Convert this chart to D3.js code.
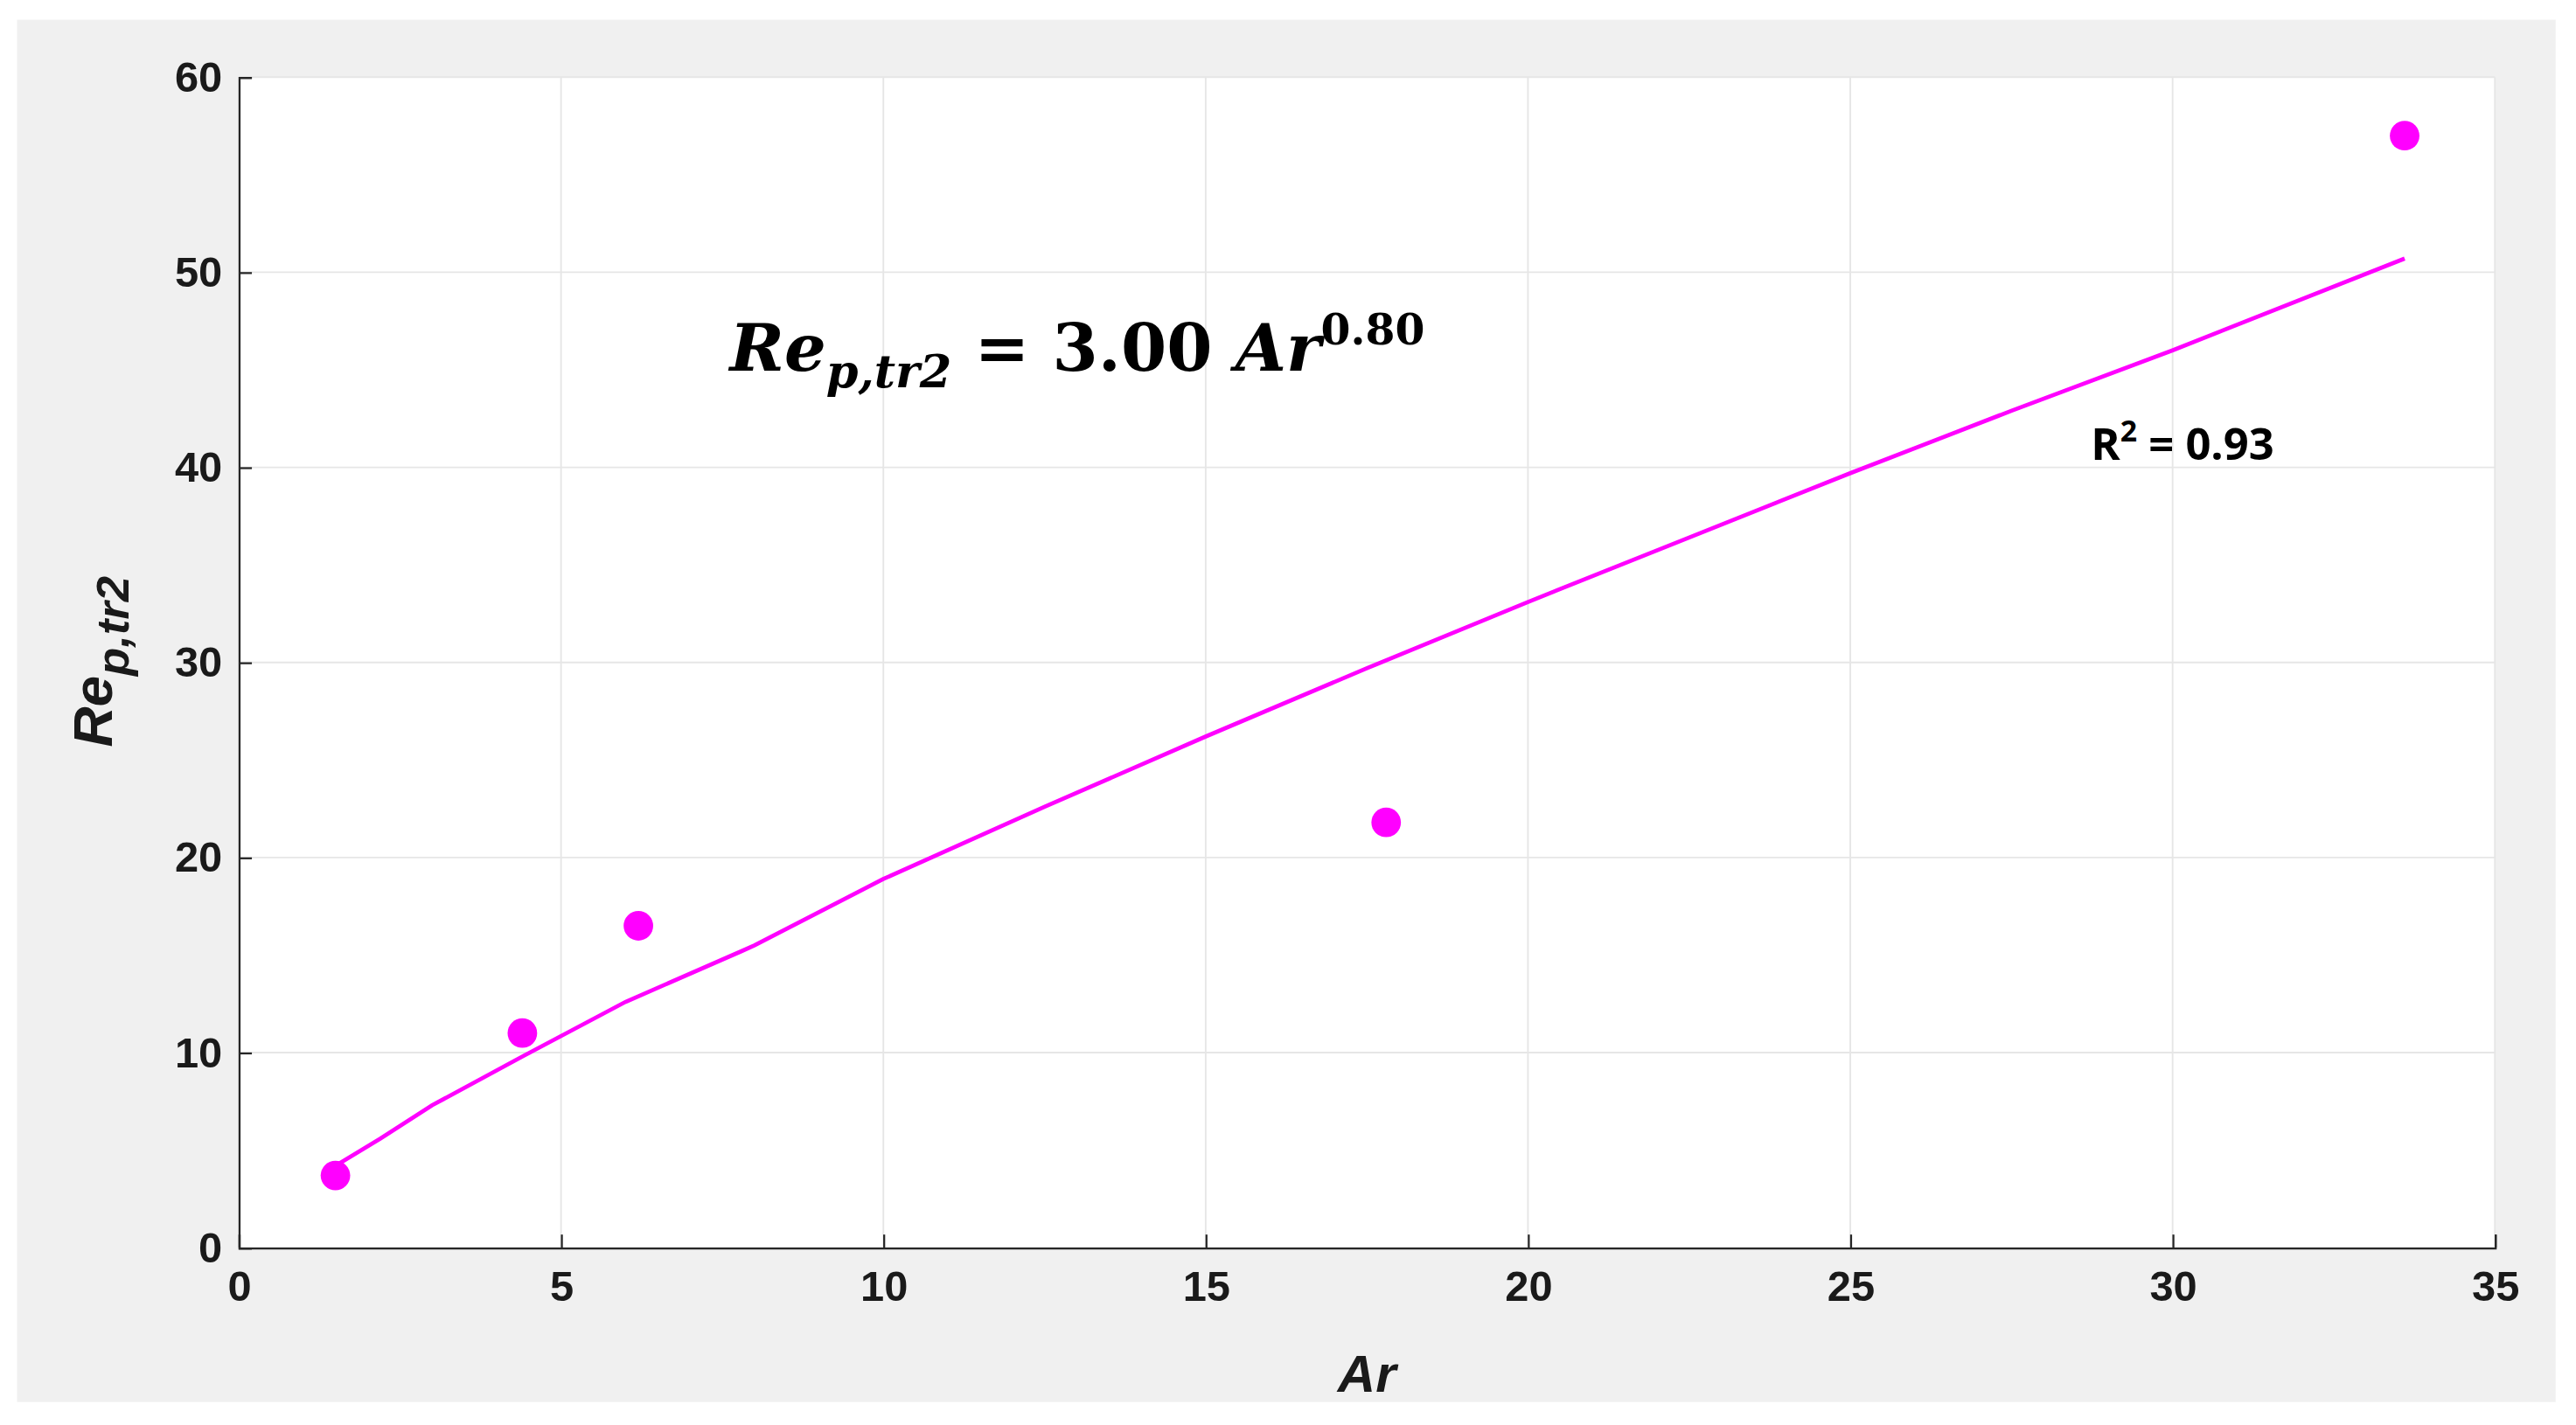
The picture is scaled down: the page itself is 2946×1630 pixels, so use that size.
<!DOCTYPE html><html><head><meta charset="utf-8">
<script src="https://cdn.jsdelivr.net/npm/d3@7"></script>
<style>html,body{margin:0;padding:0;background:#fff;overflow:hidden}</style></head><body>
<svg id="c" width="2946" height="1630" viewBox="0 0 1568 868"></svg>
<script>
const pointsAr=[1.5,4.4,6.2,17.8,33.6];
const pointsRe=[3.7,11.0,16.5,21.8,57.0];
const fitAr=[1.5,2.2,3,4.4,6,7.8,8,10,12.5,15,17.5,20,22.5,25,27.5,30,33.6];
const fitRe=[4.2,5.6,7.3,9.8,12.6,15.2,15.5,18.9,22.6,26.2,29.7,33.1,36.4,39.7,42.9,46.0,50.7];
const xTicks=[0,5,10,15,20,25,30,35];
const yTicks=[0,10,20,30,40,50,60];
const svg=d3.select("#c");
svg.append("rect").attr("x",10).attr("y",12).attr("width",1546).attr("height",842).attr("fill","#f0f0f0");
const L=145,R=1519,T=47,B=760;
const x=d3.scaleLinear().domain([0,35]).range([L,R]);
const y=d3.scaleLinear().domain([0,60]).range([B,T]);
svg.append("rect").attr("x",L).attr("y",T).attr("width",R-L).attr("height",B-T).attr("fill","#fff");
const g=svg.append("g");
g.selectAll(".gx").data(xTicks).join("line").attr("x1",d=>x(d)).attr("x2",d=>x(d)).attr("y1",T).attr("y2",B).attr("stroke","#e6e6e6");
g.selectAll(".gy").data(yTicks).join("line").attr("x1",L).attr("x2",R).attr("y1",d=>y(d)).attr("y2",d=>y(d)).attr("stroke","#e6e6e6");
const font="'Liberation Sans',Arial,sans-serif";
const xa=svg.append("g").attr("transform",`translate(0,${B})`).call(d3.axisBottom(x).tickValues(xTicks).tickSize(-8).tickPadding(14));
const ya=svg.append("g").attr("transform",`translate(${L},0)`).call(d3.axisLeft(y).tickValues(yTicks).tickSize(-8).tickPadding(10));
[xa,ya].forEach(a=>{a.selectAll("path,line").attr("stroke","#262626").attr("stroke-width",1.2);
 a.selectAll("text").attr("font-family",font).attr("font-weight","bold").attr("font-size",26).attr("fill","#1a1a1a");});
svg.append("text").attr("x",832).attr("y",848).attr("text-anchor","middle").attr("font-family",font).attr("font-weight","bold").attr("font-style","italic").attr("font-size",32).attr("fill","#1a1a1a").text("Ar");
const yl=svg.append("text").attr("transform","translate(68,403) rotate(-90)").attr("text-anchor","middle").attr("font-family",font).attr("font-weight","bold").attr("font-style","italic").attr("font-size",34).attr("fill","#1a1a1a");
yl.append("tspan").text("Re");
yl.append("tspan").attr("dy",10).attr("font-size",28).text("p,tr2");
const fit=fitAr.map((a,i)=>[a,fitRe[i]]);
svg.append("path").datum(fit).attr("fill","none").attr("stroke","#ff00ff").attr("stroke-width",2.5)
 .attr("d",d3.line().x(d=>x(d[0])).y(d=>y(d[1])));
svg.selectAll(".pt").data(pointsAr).join("circle").attr("cx",d=>x(d)).attr("cy",(d,i)=>y(pointsRe[i])).attr("r",9).attr("fill","#ff00ff");
const eq=svg.append("text").attr("x",444).attr("y",226).attr("font-family","'DejaVu Serif',serif").attr("font-weight","bold").attr("font-size",40).attr("fill","#000");
eq.append("tspan").attr("font-style","italic").text("Re");
eq.append("tspan").attr("font-style","italic").attr("font-size",28).attr("dy",10).text("p,tr2");
eq.append("tspan").attr("dy",-10).text(" =  3.00 ");
eq.append("tspan").attr("font-style","italic").text("Ar");
eq.append("tspan").attr("font-size",26).attr("dy",-16).text("0.80");
const r2=svg.append("text").attr("x",1273).attr("y",280).attr("font-family","'Open Sans',sans-serif").attr("font-weight","bold").attr("font-size",27).attr("fill","#000");
r2.append("tspan").text("R");
r2.append("tspan").attr("font-size",18).attr("dy",-11).text("2");
r2.append("tspan").attr("dy",11).text(" = 0.93");
</script></body></html>
